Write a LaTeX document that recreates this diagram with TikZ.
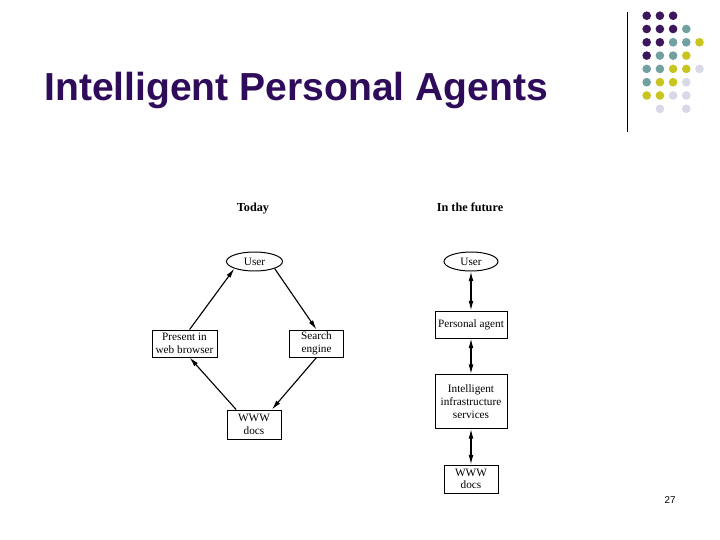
\documentclass[tikz,border=0pt]{standalone}
\usepackage{fontspec}
\setmainfont{Liberation Serif}
\newfontfamily\titlefont{Liberation Sans}
\usetikzlibrary{arrows.meta,shapes.geometric}
\definecolor{ipaPurple}{RGB}{46,12,90}
\definecolor{dotPurple}{RGB}{62,22,92}
\definecolor{dotTeal}{RGB}{112,160,160}
\definecolor{dotOlive}{RGB}{200,196,32}
\definecolor{dotLilac}{RGB}{216,216,232}

\begin{document}
\begin{tikzpicture}[x=0.25mm,y=-0.25mm,
      bx/.style={draw,line width=0.7pt,font=\fontsize{8}{9}\selectfont,align=center,inner sep=1pt},
      usr/.style={bx,ellipse,minimum width=14mm,minimum height=4.75mm},
      hd/.style={anchor=base,font=\fontsize{8.7}{10}\selectfont\bfseries},
      arr/.style={-{Latex[length=2.4mm,width=1.2mm]},line width=0.8pt},
      darr/.style={{Latex[length=2.4mm,width=1.2mm]}-{Latex[length=2.4mm,width=1.2mm]},line width=0.8pt}
    ]
    \useasboundingbox (0,0) rectangle (720,540);
    \fill[white] (0,0) rectangle (720,540);
    % heading and corner decoration
    \node[anchor=base west,inner sep=0,text=ipaPurple,font=\titlefont\fontsize{27.8}{30}\selectfont\bfseries] (title) at (44,100) {Intelligent Personal Agents};
    \draw[line width=0.7pt] (627,12) coordinate (rtop) -- (627,132) coordinate (rbot);
    \foreach \c/\r/\col in {0/0/dotPurple,1/0/dotPurple,2/0/dotPurple,
        0/1/dotPurple,1/1/dotPurple,2/1/dotPurple,3/1/dotTeal,
        0/2/dotPurple,1/2/dotPurple,2/2/dotTeal,3/2/dotTeal,4/2/dotOlive,
        0/3/dotPurple,1/3/dotTeal,2/3/dotTeal,3/3/dotOlive,
        0/4/dotTeal,1/4/dotTeal,2/4/dotOlive,3/4/dotOlive,4/4/dotLilac,
        0/5/dotTeal,1/5/dotOlive,2/5/dotOlive,3/5/dotLilac,
        0/6/dotOlive,1/6/dotOlive,2/6/dotLilac,3/6/dotLilac,
        1/7/dotLilac,3/7/dotLilac}
      \fill[\col] (646.7+13.2*\c,15.7+13.3*\r) circle[radius=1.08mm];

    % today
    \node[hd] (today) at (253,211.5) {Today};
    \node[usr] (user1) at (254.5,261.5) {User};
    \node[bx,minimum width=16.25mm,minimum height=6.75mm] (present) at (184.5,343.5) {Present in\\web browser};
    \node[bx,minimum width=13.5mm,minimum height=6.75mm] (search) at (316.5,343.5) {Search\\engine};
    \node[bx,minimum width=13.5mm,minimum height=7.25mm] (www1) at (254,424.5) {WWW\\docs};
    \draw[arr] (present.70) -- (user1.south west);
    \draw[arr] (user1.south east) -- (search.north);
    \draw[arr] (search.south) -- (www1.40);
    \draw[arr] (www1.140) -- (present.-70);

    % in the future
    \node[hd] (future) at (470,211.5) {In the future};
    \node[usr,minimum width=13.5mm] (user2) at (471,261.5) {User};
    \node[bx,minimum width=18mm,minimum height=6.75mm] (agent) at (471,324.5) {Personal agent};
    \node[bx,minimum width=18mm,minimum height=13.5mm] (infra) at (471,401.5) {Intelligent\\infrastructure\\services};
    \node[bx,minimum width=13.5mm,minimum height=7mm] (www2) at (471,479) {WWW\\docs};
    \draw[darr] (user2) -- (agent);
    \draw[darr] (agent) -- (infra);
    \draw[darr] (infra) -- (www2);

    \node[font=\titlefont\fontsize{7}{8}\selectfont] (pageno) at (670,500) {27};
  \end{tikzpicture}
\end{document}
